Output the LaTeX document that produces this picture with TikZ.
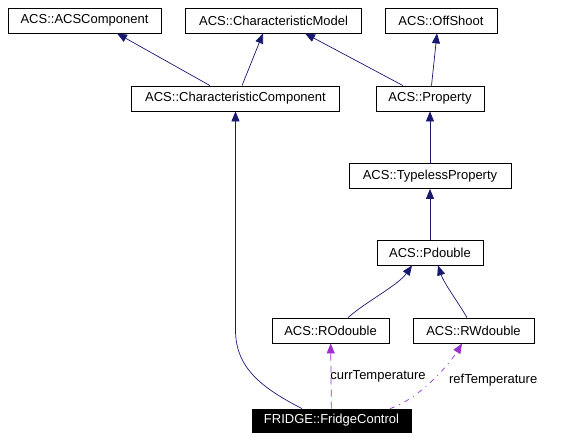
\documentclass[tikz,border=0pt]{standalone}
\usepackage{fontspec}
\setmainfont{Liberation Sans}
\usepackage{tikz}
\usetikzlibrary{arrows.meta, positioning}
\definecolor{navy}{RGB}{25, 25, 112}
\definecolor{usecolor}{RGB}{154, 50, 205}

\begin{document}
\begin{tikzpicture}[
    x=1pt, y=1pt,
    cls/.style={draw, fill=white, line width=0.8pt, minimum height=25pt, inner sep=0pt, font=\fontsize{13}{15}\selectfont},
    current/.style={cls, fill=black, text=white, minimum height=23pt},
    inherit/.style={-{Triangle[length=10pt, width=8pt]}, draw=navy, line width=0.7pt},
    member/.style={-{Triangle[length=10pt, width=8pt, sep=0pt]}, draw=usecolor, line width=0.7pt},
    lbl/.style={font=\fontsize{13}{15}\selectfont, inner sep=0pt, anchor=west}
]
    \useasboundingbox (0,0) rectangle (565,440);

    % Base classes
    \node[cls, minimum width=153pt] (acscomp) at (84.5,419.5) {ACS::ACSComponent};
    \node[cls, minimum width=176pt] (charmodel) at (273.5,419.5) {ACS::CharacteristicModel};
    \node[cls, minimum width=112pt] (offshoot) at (441,419.5) {ACS::OffShoot};
    \node[cls, minimum width=208pt] (charcomp) at (235.5,341.5) {ACS::CharacteristicComponent};
    \node[cls, minimum width=108pt] (property) at (430,341.5) {ACS::Property};
    \node[cls, minimum width=162pt] (typeless) at (430,264) {ACS::TypelessProperty};
    \node[cls, minimum width=106pt] (pdouble) at (430,187.5) {ACS::Pdouble};
    \node[cls, minimum width=117pt] (rodouble) at (330.5,109.5) {ACS::ROdouble};
    \node[cls, minimum width=121pt] (rwdouble) at (473.5,109.5) {ACS::RWdouble};
    \node[current, minimum width=159pt] (fridge) at (331.5,19.5) {FRIDGE::FridgeControl};
    \coordinate (bend) at (235.5,110);

    % Inheritance
    \draw[inherit] ([xshift=-25.5pt]charcomp.north) -- ([xshift=32.5pt]acscomp.south);
    \draw[inherit] ([xshift=6.5pt]charcomp.north) -- ([xshift=-10.5pt]charmodel.south);
    \draw[inherit] ([xshift=-27pt]property.north) -- ([xshift=31.5pt]charmodel.south);
    \draw[inherit] ([xshift=1.5pt]property.north) -- ([xshift=-4pt]offshoot.south);
    \draw[inherit] (typeless) -- (property);
    \draw[inherit] (pdouble) -- (typeless);
    \draw[inherit] ([xshift=17.5pt]rodouble.north) .. controls +(18,16) and +(-14,-20) .. ([xshift=-18pt]pdouble.south);
    \draw[inherit] ([xshift=-6.5pt]rwdouble.north) .. controls +(-8,14) and +(6,-18) .. ([xshift=8pt]pdouble.south);
    \draw[inherit, -] ([xshift=-29.5pt]fridge.north) .. controls (262,52) and (235.5,72) .. (bend);
    \draw[inherit] (bend) -- (charcomp);

    % Members
    \draw[member, dash pattern=on 7pt off 5pt] (fridge) -- (rodouble)
        node[lbl, midway, xshift=-1pt] {currTemperature};
    \draw[member, dash pattern=on 5pt off 5pt on 1pt off 5pt] ([xshift=58.5pt]fridge.north) .. controls +(30,10) and +(-12,-20) .. ([xshift=-11.5pt]rwdouble.south)
        node[lbl, pos=0.5, xshift=16pt] {refTemperature};
\end{tikzpicture}
\end{document}
